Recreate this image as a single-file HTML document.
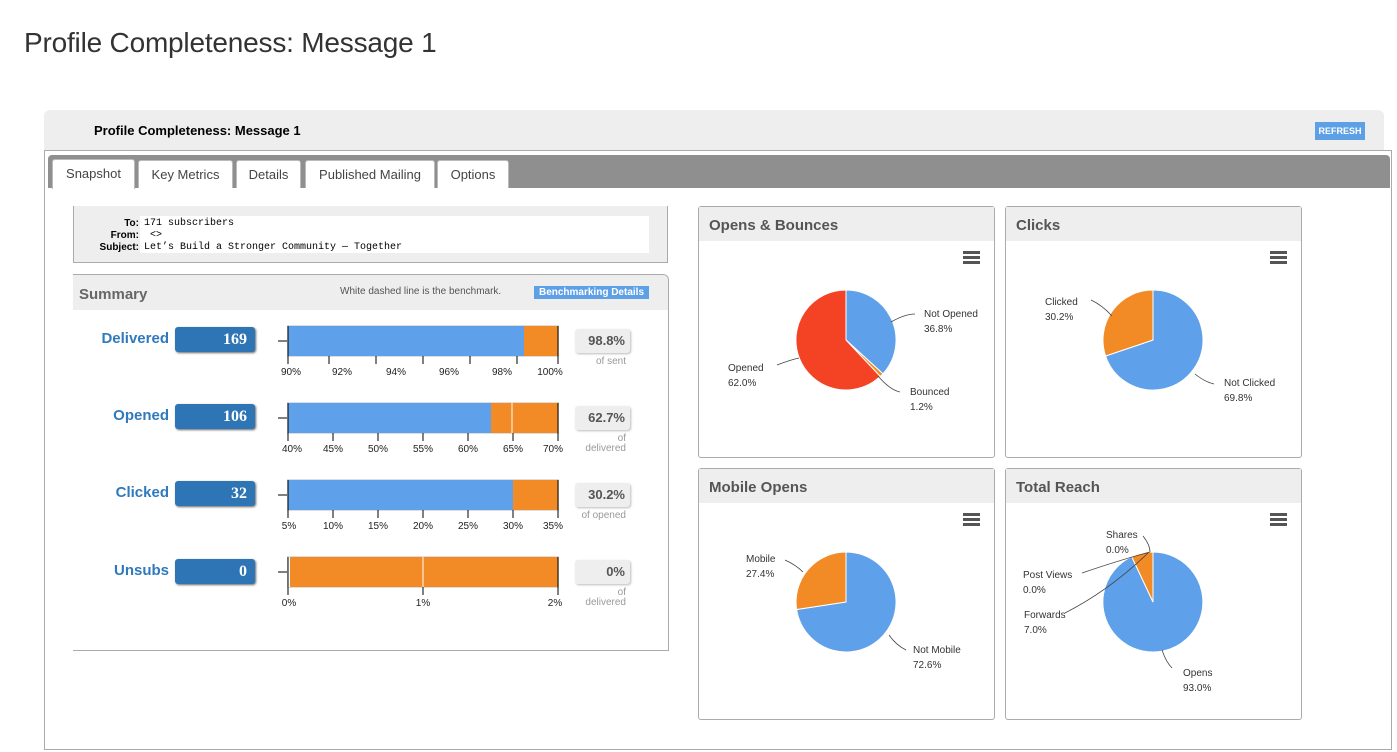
<!DOCTYPE html>
<html><head><meta charset="utf-8"><style>
body{margin:0;width:1397px;height:752px;background:#fff;font-family:"Liberation Sans",sans-serif;position:relative;overflow:hidden}
.a{position:absolute}
h1{position:absolute;left:24px;top:27px;margin:0;font-weight:normal;font-size:28px;color:#333;letter-spacing:-0.2px}
.tab{position:absolute;top:160px;height:27px;background:#fff;border:1px solid #bbb;border-bottom:none;font-size:13px;color:#444;line-height:27px;text-align:center;border-radius:3px 3px 0 0}
.lbl{position:absolute;font-weight:bold;color:#2f7abd;font-size:15px;text-align:right;width:90px;left:79px}
.num{position:absolute;left:175px;width:80px;height:25px;background:#2e75b6;border-radius:3px;color:#fff;font-family:"Liberation Serif",serif;font-weight:bold;font-size:16px;text-align:right;box-sizing:border-box;padding-right:8px;line-height:25px;box-shadow:1px 1px 2px #666}
.pct{position:absolute;left:575px;width:55px;height:24px;background:#eee;border-radius:3px;font-size:13px;font-weight:bold;color:#555;text-align:right;padding-right:5px;box-sizing:border-box;line-height:24px;box-shadow:1px 1px 2px #bbb}
.sub{position:absolute;left:560px;width:66px;text-align:right;font-size:10px;color:#999;line-height:10px}
.panel{position:absolute;width:295px;height:250px;border:1px solid #aaa;border-radius:3px;background:#fff}
.ph{height:34px;background:#eee;font-weight:bold;color:#555;font-size:15px;line-height:38px;padding-left:10px}
.burger{position:absolute;right:14px;top:44px;width:17px}
.burger div{height:3px;background:#555;margin-bottom:2px}
.pl{position:absolute;font-size:10px;color:#333;line-height:15px}
</style></head><body>
<h1>Profile Completeness: Message 1</h1>
<div class="a" style="left:44px;top:110px;width:1340px;height:40px;background:#eee;border-radius:6px 6px 0 0"></div>
<div class="a" style="left:94px;top:123px;font-size:13px;font-weight:bold">Profile Completeness: Message 1</div>
<div class="a" style="left:1315px;top:122px;width:50px;height:18px;background:#5ea0e6;color:#fff;font-size:9px;font-weight:bold;text-align:center;line-height:18px">REFRESH</div>
<div class="a" style="left:44px;top:150px;width:1348px;height:600px;border:1px solid #aaa;box-sizing:border-box"></div>
<div class="a" style="left:48px;top:155px;width:1342px;height:33px;background:#8f8f8f;border-radius:4px 4px 0 0"></div>
<div class="tab" style="left:52px;width:81px;top:159px;height:29px">Snapshot</div>
<div class="tab" style="left:138px;width:93px">Key Metrics</div>
<div class="tab" style="left:236px;width:63px">Details</div>
<div class="tab" style="left:305px;width:128px">Published Mailing</div>
<div class="tab" style="left:437px;width:70px">Options</div>

<div class="a" style="left:73px;top:206px;width:595px;height:57px;background:#eee;border:1px solid #aaa;border-top:none;box-sizing:border-box"></div>
<div class="a" style="left:140px;top:216px;width:509px;height:37px;background:#fff"></div>
<div class="a" style="left:73px;top:218px;width:66px;text-align:right;font-size:10px;font-weight:bold;line-height:12px">To:<br>From:<br>Subject:</div>
<div class="a" style="left:144px;top:218px;font-family:'Liberation Mono',monospace;font-size:10px;line-height:12px">171 subscribers<br>&nbsp;&lt;&gt;<br>Let’s Build a Stronger Community — Together</div>

<div class="a" style="left:73px;top:274px;width:596px;height:377px;border:1px solid #aaa;border-left:none;border-radius:0 6px 0 0;box-sizing:border-box"></div>
<div class="a" style="left:73px;top:275px;width:595px;height:35px;background:#eee;border-radius:0 6px 0 0"></div>
<div class="a" style="left:79px;top:286px;font-weight:bold;color:#666;font-size:15px">Summary</div>
<div class="a" style="left:340px;top:286px;font-size:10px;color:#555">White dashed line is the benchmark.</div>
<div class="a" style="left:534px;top:286px;width:115px;height:13px;background:#5ea0e6;color:#fff;font-size:10px;font-weight:bold;text-align:center;line-height:13px">Benchmarking Details</div>

<div class="lbl" style="top:330px">Delivered</div><div class="num" style="top:327px">169</div>
<div class="lbl" style="top:407px">Opened</div><div class="num" style="top:404px">106</div>
<div class="lbl" style="top:484px">Clicked</div><div class="num" style="top:481px">32</div>
<div class="lbl" style="top:562px">Unsubs</div><div class="num" style="top:559px">0</div>

<svg class="a" style="left:0;top:0" width="700" height="620">
<g stroke="#000" stroke-width="1">
<line x1="278" y1="341" x2="288" y2="341"/><line x1="278" y1="418" x2="288" y2="418"/><line x1="278" y1="495" x2="288" y2="495"/><line x1="278" y1="572" x2="288" y2="572"/>
</g>
<g fill="none" stroke="#ddd"><rect x="287.5" y="325.5" width="271" height="31"/><rect x="287.5" y="402.5" width="271" height="31"/><rect x="287.5" y="479.5" width="271" height="31"/><rect x="287.5" y="556.5" width="271" height="31"/></g>
<rect x="288" y="326" width="236" height="30" fill="#5ea0ea"/><rect x="524" y="326" width="34" height="30" fill="#f28b25"/>
<rect x="288" y="403" width="203" height="30" fill="#5ea0ea"/><rect x="491" y="403" width="67" height="30" fill="#f28b25"/><line x1="512" y1="403" x2="512" y2="433" stroke="#fff"/>
<rect x="288" y="480" width="225" height="30" fill="#5ea0ea"/><rect x="513" y="480" width="45" height="30" fill="#f28b25"/>
<rect x="290" y="557" width="268" height="30" fill="#f28b25"/><line x1="423" y1="557" x2="423" y2="587" stroke="#fff"/>
<g stroke="#000">
<path d="M288,326V364M558,326V364M329,356V364M376,356V364M423,356V364M470,356V364M517,356V364"/>
<path d="M288,403V441M558,403V441M333,433V441M378,433V441M423,433V441M468,433V441M513,433V441"/>
<path d="M288,480V518M558,480V518M333,510V518M378,510V518M423,510V518M468,510V518M513,510V518"/>
<path d="M288,557V595M558,557V595M423,587V595"/>
</g>
<g font-size="10" fill="#222" text-anchor="middle" font-family="Liberation Sans">
<text x="291" y="375">90%</text><text x="342" y="375">92%</text><text x="396" y="375">94%</text><text x="449" y="375">96%</text><text x="502" y="375">98%</text><text x="550" y="375">100%</text>
<text x="292" y="452">40%</text><text x="333" y="452">45%</text><text x="378" y="452">50%</text><text x="423" y="452">55%</text><text x="468" y="452">60%</text><text x="513" y="452">65%</text><text x="553" y="452">70%</text>
<text x="289" y="529">5%</text><text x="333" y="529">10%</text><text x="378" y="529">15%</text><text x="423" y="529">20%</text><text x="468" y="529">25%</text><text x="513" y="529">30%</text><text x="553" y="529">35%</text>
<text x="289" y="606">0%</text><text x="423" y="606">1%</text><text x="555" y="606">2%</text>
</g>
</svg>
<div class="pct" style="top:329px">98.8%</div><div class="sub" style="top:357px">of sent</div>
<div class="pct" style="top:406px">62.7%</div><div class="sub" style="top:434px">of<br>delivered</div>
<div class="pct" style="top:483px">30.2%</div><div class="sub" style="top:511px">of opened</div>
<div class="pct" style="top:560px">0%</div><div class="sub" style="top:588px">of<br>delivered</div>

<div class="panel" style="left:698px;top:206px"><div class="ph">Opens &amp; Bounces</div><div class="burger"><div></div><div></div><div></div></div></div>
<div class="panel" style="left:1005px;top:206px"><div class="ph">Clicks</div><div class="burger"><div></div><div></div><div></div></div></div>
<div class="panel" style="left:698px;top:468px"><div class="ph">Mobile Opens</div><div class="burger"><div></div><div></div><div></div></div></div>
<div class="panel" style="left:1005px;top:468px"><div class="ph">Total Reach</div><div class="burger"><div></div><div></div><div></div></div></div>

<svg class="a" style="left:0;top:0" width="1397" height="752">
<g stroke="#fff" stroke-width="1">
<path d="M846,340L846,290A50,50 0 0 1 882.9,373.8Z" fill="#5ea0ea"/>
<path d="M846,340L882.9,373.8A50,50 0 0 1 880.2,376.4Z" fill="#f28b25"/>
<path d="M846,340L880.2,376.4A50,50 0 1 1 846,290Z" fill="#f44324"/>
<path d="M1153,340L1153,290A50,50 0 1 1 1105.6,356Z" fill="#5ea0ea"/>
<path d="M1153,340L1105.6,356A50,50 0 0 1 1153,290Z" fill="#f28b25"/>
<path d="M846,602L846,552A50,50 0 1 1 796.6,609.5Z" fill="#5ea0ea"/>
<path d="M846,602L796.6,609.5A50,50 0 0 1 846,552Z" fill="#f28b25"/>
<path d="M1153,602L1153,552A50,50 0 1 1 1131.7,556.7Z" fill="#5ea0ea"/>
<path d="M1153,602L1131.7,556.7A50,50 0 0 1 1153,552Z" fill="#f28b25"/>
</g>
<g stroke="#444" fill="none" stroke-width="0.8">
<path d="M891,322Q905,314 915,314"/><path d="M777,365Q790,360 799,358"/><path d="M878,376Q890,390 900,392"/>
<path d="M1091,300Q1102,305 1112,316"/><path d="M1195,374Q1205,382 1214,384"/>
<path d="M785,560Q796,565 803,572"/><path d="M889,635Q896,645 906,650"/>
<path d="M1143,536Q1150,545 1150,552"/><path d="M1082,573Q1120,560 1150,552"/><path d="M1065,613Q1110,590 1148,553"/><path d="M1162,650Q1166,662 1172,668"/>
</g>
</svg>
<div class="pl" style="left:924px;top:307px">Not Opened<br>36.8%</div>
<div class="pl" style="left:728px;top:361px">Opened<br>62.0%</div>
<div class="pl" style="left:910px;top:385px">Bounced<br>1.2%</div>
<div class="pl" style="left:1045px;top:295px">Clicked<br>30.2%</div>
<div class="pl" style="left:1224px;top:376px">Not Clicked<br>69.8%</div>
<div class="pl" style="left:746px;top:552px">Mobile<br>27.4%</div>
<div class="pl" style="left:913px;top:643px">Not Mobile<br>72.6%</div>
<div class="pl" style="left:1106px;top:528px">Shares<br>0.0%</div>
<div class="pl" style="left:1023px;top:568px">Post Views<br>0.0%</div>
<div class="pl" style="left:1024px;top:608px">Forwards<br>7.0%</div>
<div class="pl" style="left:1183px;top:666px">Opens<br>93.0%</div>
</body></html>
